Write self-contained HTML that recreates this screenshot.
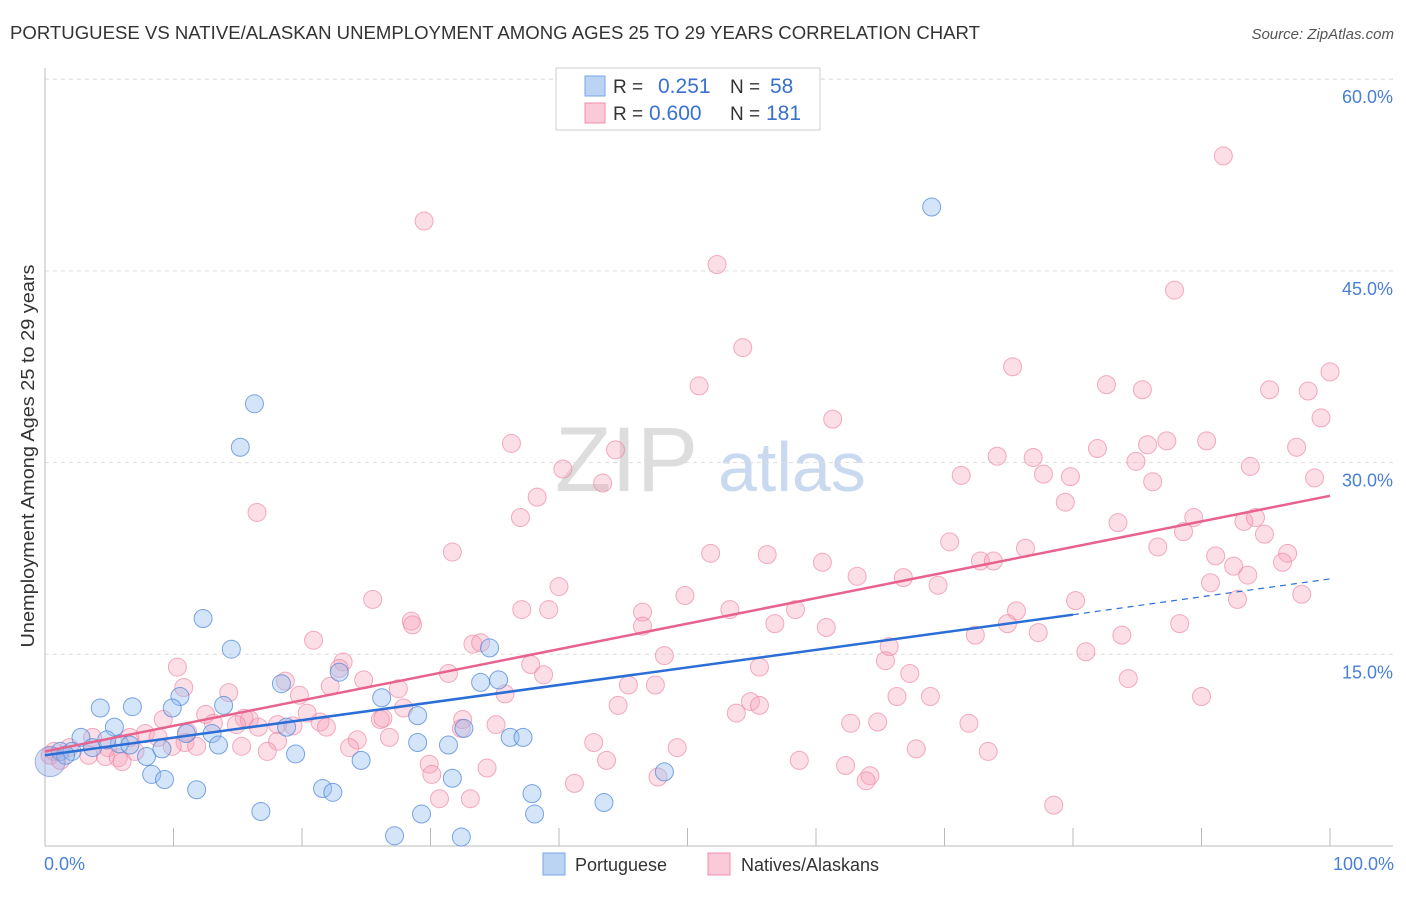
<!DOCTYPE html>
<html><head><meta charset="utf-8"><style>
body{margin:0;background:#fff;font-family:"Liberation Sans",sans-serif;}
svg text{font-family:"Liberation Sans",sans-serif;}
</style></head><body>
<svg id="chart" width="1406" height="892" viewBox="0 0 1406 892">
<text x="10" y="39" font-size="18" fill="#333" textLength="970" lengthAdjust="spacingAndGlyphs">PORTUGUESE VS NATIVE/ALASKAN UNEMPLOYMENT AMONG AGES 25 TO 29 YEARS CORRELATION CHART</text>
<text x="1394" y="39" font-size="15" fill="#555" font-style="italic" text-anchor="end">Source: ZipAtlas.com</text>
<text x="555" y="491" font-size="92" fill="#ddd" font-family="Liberation Serif,serif">ZIP</text>
<text x="718" y="491" font-size="70" fill="#c9d9f0">atlas</text>
<g id="grid"></g>
<g id="axes"></g>
<g id="pts"></g>
<g id="trends"></g>
<text transform="translate(34,456) rotate(-90)" font-size="18" fill="#333" text-anchor="middle" textLength="383" lengthAdjust="spacingAndGlyphs">Unemployment Among Ages 25 to 29 years</text>
<g>
<rect x="556" y="68" width="264" height="62" fill="#fff" stroke="#ccc"/>
<rect x="585" y="76" width="20" height="20" fill="#bcd4f4" stroke="#7aa6e6"/>
<text x="613" y="93" font-size="19" fill="#333">R =</text><text x="658" y="93" font-size="21" fill="#3a70d0">0.251</text>
<text x="730" y="93" font-size="19" fill="#333">N =</text><text x="770" y="93" font-size="21" fill="#3a70d0">58</text>
<rect x="585" y="103" width="20" height="20" fill="#fbcad8" stroke="#f08cab"/>
<text x="613" y="120" font-size="19" fill="#333">R =</text><text x="649" y="120" font-size="21" fill="#3a70d0">0.600</text>
<text x="730" y="120" font-size="19" fill="#333">N =</text><text x="766" y="120" font-size="21" fill="#3a70d0">181</text>
</g>
<g>
<rect x="543" y="853" width="22" height="22" fill="#bcd4f4" stroke="#7aa6e6"/>
<text x="575" y="871" font-size="18" fill="#333">Portuguese</text>
<rect x="708" y="853" width="22" height="22" fill="#fbcad8" stroke="#f08cab"/>
<text x="741" y="871" font-size="18" fill="#333">Natives/Alaskans</text>
</g>
</svg>
<script>
const yTicks=[15,30,45,60];
const yTickLabels=["15.0%","30.0%","45.0%","60.0%"];
const xTickLabels=["0.0%","100.0%"];
const blueX=[69.0,16.3,15.2,12.3,14.5,34.6,10.5,4.3,6.8,9.9,13.9,18.4,22.9,26.2,29.0,33.9,35.3,5.4,2.8,13.0,11.0,18.8,32.6,36.2,37.2,5.8,13.5,29.0,31.4,19.5,24.6,7.9,9.1,1.2,2.1,8.3,9.3,31.7,48.2,11.8,21.6,22.4,37.9,43.5,16.8,29.3,38.1,27.2,32.4,3.7,4.8,6.6,1.6];
const blueY=[50.0,34.6,31.2,17.8,15.4,15.5,11.7,10.8,10.9,10.8,11.0,12.7,13.6,11.6,10.2,12.8,13.0,9.3,8.5,8.8,8.8,9.3,9.2,8.5,8.5,8.0,7.9,8.1,7.9,7.2,6.7,7.0,7.6,7.4,7.4,5.6,5.2,5.3,5.8,4.4,4.5,4.2,4.1,3.4,2.7,2.5,2.5,0.8,0.7,7.7,8.3,7.9,7.1];
const pinkX=[91.7,29.5,52.3,87.9,54.3,75.3,50.9,82.6,85.4,95.3,98.3,100,61.3,99.3,36.3,81.9,85.8,87.3,90.4,97.4,44.4,74.1,76.9,84.9,93.8,40.3,71.3,77.7,79.8,86.2,98.8,43.4,38.3,79.4,16.5,37.0,83.5,89.4,93.3,94.2,88.6,94.9,70.4,86.6,76.3,31.7,51.8,56.2,91.1,96.7,60.5,72.8,73.8,92.5,96.3,63.2,66.8,93.6,40.0,69.5,90.7,49.8,25.5,80.2,92.8,97.8,37.1,39.2,46.5,53.3,58.4,75.6,28.5,28.6,46.5,56.8,60.8,74.9,88.3,72.4,77.3,83.8,20.9,33.3,33.9,65.7,48.2,81.0,23.2,10.3,22.9,37.8,55.6,65.4,31.4,38.8,67.3,18.7,24.8,10.8,22.2,45.4,47.5,84.3,19.8,14.3,27.5,35.8,66.3,68.9,90.0,54.9,55.6,44.6,27.9,12.5,15.5,20.4,53.8,9.2,15.9,26.1,32.5,13.1,14.9,21.4,26.3,16.6,18.1,19.3,62.7,64.8,71.9,35.1,21.9,32.4,11.1,7.8,6.6,8.8,3.7,24.3,26.8,18.1,10.9,15.3,11.8,9.9,42.7,49.2,67.8,73.4,23.7,17.3,4.9,7.0,3.4,4.7,5.7,0.7,1.9,43.7,29.9,58.7,62.3,6.0,34.4,30.1,64.2,47.7,63.9,41.2,30.7,33.1,78.5,0.4,1.2];
const pinkY=[54.0,48.9,45.5,43.5,39.0,37.5,36.0,36.1,35.7,35.7,35.6,37.1,33.4,33.5,31.5,31.1,31.4,31.7,31.7,31.2,31.0,30.5,30.4,30.1,29.7,29.5,29.0,29.1,28.9,28.5,28.8,28.4,27.3,26.9,26.1,25.7,25.3,25.7,25.4,25.7,24.6,24.4,23.8,23.4,23.3,23.0,22.9,22.8,22.7,22.9,22.2,22.3,22.3,21.9,22.2,21.1,21.0,21.2,20.3,20.4,20.6,19.6,19.3,19.2,19.3,19.7,18.5,18.5,18.3,18.5,18.5,18.4,17.6,17.3,17.2,17.4,17.1,17.4,17.4,16.5,16.7,16.5,16.1,15.8,15.9,15.6,14.9,15.2,14.4,14.0,13.9,14.2,14.0,14.5,13.5,13.4,13.5,12.9,13.0,12.4,12.5,12.6,12.6,13.1,11.8,12.0,12.3,11.9,11.7,11.7,11.7,11.3,11.0,11.0,10.8,10.3,10.0,10.4,10.4,9.9,9.9,9.9,9.9,9.6,9.5,9.7,10.0,9.3,9.5,9.4,9.6,9.7,9.6,9.5,9.3,9.2,8.9,8.8,8.5,8.5,8.5,8.3,8.5,8.2,8.1,7.8,7.8,7.8,8.1,7.7,7.6,7.4,7.7,7.4,7.7,7.4,7.1,7.0,6.9,7.4,7.7,6.7,6.4,6.7,6.3,6.6,6.1,5.6,5.5,5.4,5.1,4.9,3.7,3.7,3.2,7.1,6.7];
const blueTrendX=[0,80,100];
const blueTrendY=[7.1,18.1,20.9];
const pinkTrendX=[0,100];
const pinkTrendY=[7.4,27.4];

const NS="http://www.w3.org/2000/svg";
const sx=v=>45+v*12.85;
const sy=v=>846-v*12.78;
function mk(tag,attrs,parent){const e=document.createElementNS(NS,tag);for(const k in attrs)e.setAttribute(k,attrs[k]);parent.appendChild(e);return e;}
const grid=document.getElementById('grid'),axes=document.getElementById('axes'),pts=document.getElementById('pts'),tr=document.getElementById('trends');
yTicks.forEach((t,i)=>{
 const l=mk('line',{x1:45,x2:1393,y1:sy(t),y2:sy(t),stroke:'#ddd','stroke-dasharray':'4,4'},grid);
 
 
 const tx=mk('text',{x:1393,y:sy(t)+24,'font-size':18,fill:'#4a7fd6','text-anchor':'end'},grid);
 tx.textContent=yTickLabels[i];
 
 
});
const topG=mk('line',{x1:45,x2:1393,y1:79,y2:79,stroke:'#ddd','stroke-dasharray':'4,4'},grid);


const ya=mk('line',{x1:45,x2:45,y1:68,y2:846,stroke:'#bbb'},axes);


const xa=mk('line',{x1:45,x2:1393,y1:846,y2:846,stroke:'#bbb'},axes);


for(let i=1;i<=10;i++){
 const t=mk('line',{x1:sx(i*10),x2:sx(i*10),y1:828,y2:846,stroke:'#bbb'},axes);
 
 
}
[[0,'start',44],[100,'end',1394]].forEach((d,i)=>{
 const t=mk('text',{x:d[2],y:870,'font-size':18,fill:'#4a7fd6','text-anchor':d[1]},axes);
 t.textContent=xTickLabels[i];
 
 
});
pinkX.forEach((x,i)=>{
 const c=mk('circle',{cx:sx(x),cy:sy(pinkY[i]),r:9,fill:'rgba(246,160,185,0.35)',stroke:'rgba(236,130,160,0.65)','stroke-width':1},pts);
 
 
});
blueX.forEach((x,i)=>{
 const c=mk('circle',{cx:sx(x),cy:sy(blueY[i]),r:9,fill:'rgba(150,190,240,0.4)',stroke:'rgba(70,130,215,0.7)','stroke-width':1},pts);
 
 
});
const big=mk('circle',{cx:sx(0.4),cy:sy(6.6),r:15,fill:'rgba(150,170,230,0.4)',stroke:'rgba(110,140,215,0.6)'},pts);


const pl=mk('line',{x1:sx(pinkTrendX[0]),y1:sy(pinkTrendY[0]),x2:sx(pinkTrendX[1]),y2:sy(pinkTrendY[1]),stroke:'#e8628e','stroke-width':2.5},tr);


const bl=mk('line',{x1:sx(blueTrendX[0]),y1:sy(blueTrendY[0]),x2:sx(blueTrendX[1]),y2:sy(blueTrendY[1]),stroke:'#2b6fd6','stroke-width':2.5},tr);


const bd=mk('line',{x1:sx(blueTrendX[1]),y1:sy(blueTrendY[1]),x2:sx(blueTrendX[2]),y2:sy(blueTrendY[2]),stroke:'#2b6fd6','stroke-width':1.2,'stroke-dasharray':'6,5'},tr);


</script>
</body></html>
